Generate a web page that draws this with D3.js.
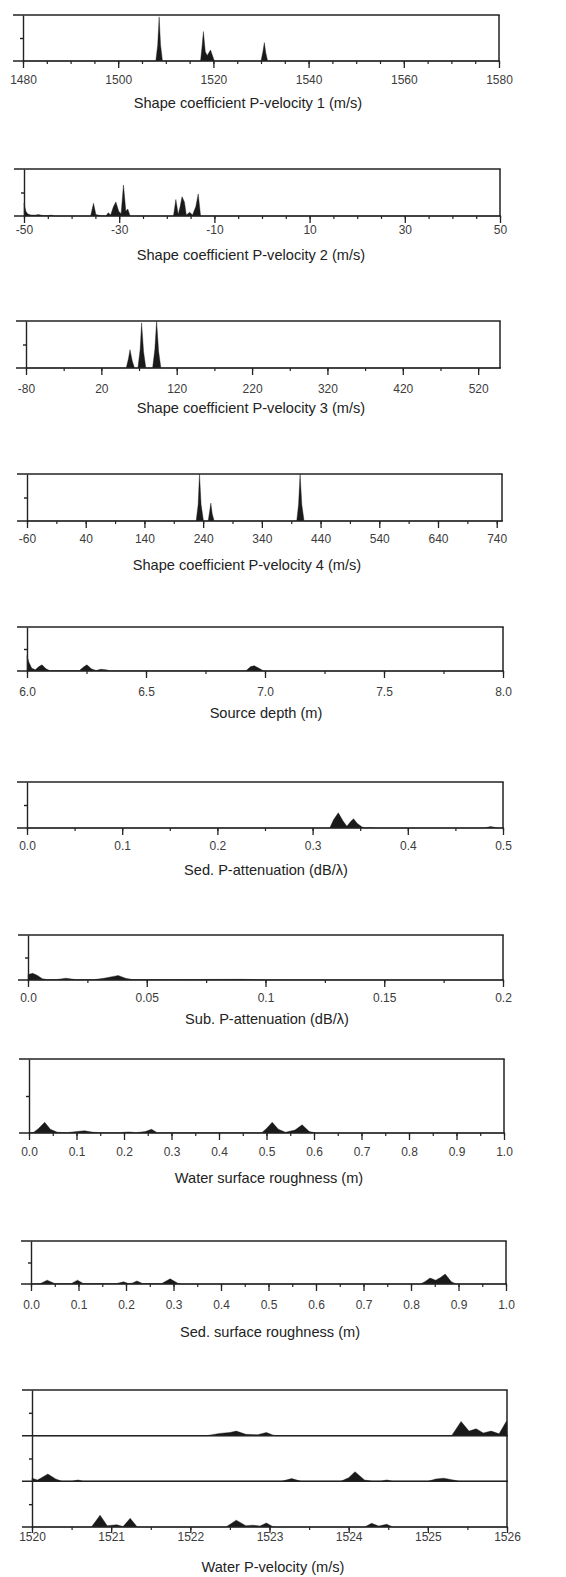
<!DOCTYPE html>
<html><head><meta charset="utf-8">
<script src="https://cdn.jsdelivr.net/npm/d3@7"></script>
<style>body{margin:0;background:#fff}</style>
</head><body>
<svg id="chart" width="566" height="1577"></svg>
<script>
// ================= DATA =================
const titles = [
  "Shape coefficient P-velocity 1 (m/s)",
  "Shape coefficient P-velocity 2 (m/s)",
  "Shape coefficient P-velocity 3 (m/s)",
  "Shape coefficient P-velocity 4 (m/s)",
  "Source depth (m)",
  "Sed. P-attenuation (dB/\u03bb)",
  "Sub. P-attenuation (dB/\u03bb)",
  "Water surface roughness (m)",
  "Sed. surface roughness (m)",
  "Water P-velocity  (m/s)"
];
const domains = [[1480,1580],[-50,50],[-80,549],[-60,749],[6,8],[0,0.5],[0,0.2],[0,1],[0,1],[1520,1526]];
const majorTicks = [
  [1480,1500,1520,1540,1560,1580],
  [-50,-30,-10,10,30,50],
  [-80,20,120,220,320,420,520],
  [-60,40,140,240,340,440,540,640,740],
  [6,6.5,7,7.5,8],
  [0,0.1,0.2,0.3,0.4,0.5],
  [0,0.05,0.1,0.15,0.2],
  [0,0.1,0.2,0.3,0.4,0.5,0.6,0.7,0.8,0.9,1],
  [0,0.1,0.2,0.3,0.4,0.5,0.6,0.7,0.8,0.9,1],
  [1520,1521,1522,1523,1524,1525,1526]
];
const tickLabels = [
  ["1480","1500","1520","1540","1560","1580"],
  ["-50","-30","-10","10","30","50"],
  ["-80","20","120","220","320","420","520"],
  ["-60","40","140","240","340","440","540","640","740"],
  ["6.0","6.5","7.0","7.5","8.0"],
  ["0.0","0.1","0.2","0.3","0.4","0.5"],
  ["0.0","0.05","0.1","0.15","0.2"],
  ["0.0","0.1","0.2","0.3","0.4","0.5","0.6","0.7","0.8","0.9","1.0"],
  ["0.0","0.1","0.2","0.3","0.4","0.5","0.6","0.7","0.8","0.9","1.0"],
  ["1520","1521","1522","1523","1524","1525","1526"]
];
const minorStep = [5,5,50,50,0.25,0.05,0.025,0.05,0.05,0.5];

// posterior densities, [value, relative height]
const shapeVel1 = [[1480,0],[1507.9,0],[1508.3,0.35],[1508.6,0.96],[1508.9,0.35],[1509.3,0],[1517.3,0],[1517.6,0.3],[1517.9,0.64],[1518.3,0.2],[1518.7,0.12],[1519.4,0.24],[1520.2,0],[1530.0,0],[1530.4,0.2],[1530.7,0.40],[1531.0,0.18],[1531.4,0],[1580,0]];
const shapeVel2 = [[-50,0.27],[-49.6,0.1],[-49.2,0.04],[-48.5,0.02],[-47.5,0.02],[-47,0.03],[-46,0.01],[-44.8,0.01],[-44.3,0.02],[-43.5,0],[-36,0],[-35.4,0.27],[-34.9,0.03],[-34,0.01],[-32.8,0],[-32.3,0.07],[-31.8,0.02],[-31.2,0.2],[-30.7,0.3],[-30.1,0.1],[-29.6,0.05],[-29.1,0.66],[-28.6,0.1],[-28.2,0.15],[-27.7,0],[-18.6,0],[-18.1,0.35],[-17.6,0.03],[-17.2,0.2],[-16.8,0.41],[-16.3,0.3],[-15.9,0.02],[-15.2,0.08],[-14.6,0.02],[-13.9,0.2],[-13.4,0.47],[-12.9,0],[50,0]];
const shapeVel3 = [[-80,0],[53,0],[56,0.2],[58,0.39],[61,0.15],[64,0],[68.5,0],[71.5,0.4],[73.4,0.96],[76,0.35],[79,0],[88,0],[91,0.4],[93.3,1.0],[96,0.35],[99,0],[549,0]];
const shapeVel4 = [[-60,0],[228.1,0],[231.5,0.35],[233.8,1.0],[236.5,0.35],[240.6,0],[248.6,0],[251,0.2],[253.1,0.38],[255.5,0.15],[258.8,0],[399.4,0],[402.5,0.35],[405.1,1.0],[408,0.35],[411.9,0],[749,0]];
const sourceDepth = [[6.0,0.35],[6.008,0.2],[6.02,0.06],[6.035,0.03],[6.05,0.1],[6.063,0.14],[6.08,0.05],[6.095,0.01],[6.22,0.01],[6.24,0.1],[6.252,0.14],[6.27,0.05],[6.29,0.01],[6.31,0.04],[6.33,0.03],[6.35,0.005],[6.92,0.005],[6.94,0.1],[6.955,0.12],[6.975,0.06],[6.995,0],[8,0]];
const sedAtten = [[0,0],[0.318,0],[0.322,0.18],[0.327,0.33],[0.332,0.15],[0.336,0.04],[0.34,0.14],[0.343,0.2],[0.347,0.1],[0.352,0.02],[0.356,0],[0.36,0.01],[0.366,0],[0.48,0],[0.487,0.03],[0.495,0],[0.5,0]];
const subAtten = [[0,0.12],[0.002,0.15],[0.004,0.1],[0.006,0.03],[0.008,0.01],[0.012,0.01],[0.016,0.04],[0.02,0.01],[0.028,0.01],[0.032,0.04],[0.036,0.08],[0.038,0.1],[0.041,0.04],[0.044,0.01],[0.06,0.01],[0.09,0.015],[0.1,0.005],[0.2,0]];
const waterRough = [[0,0],[0.01,0.01],[0.02,0.06],[0.033,0.145],[0.045,0.05],[0.06,0.01],[0.08,0.005],[0.1,0.02],[0.117,0.03],[0.135,0.01],[0.15,0.005],[0.19,0.005],[0.21,0.015],[0.225,0.005],[0.245,0.02],[0.258,0.05],[0.27,0.005],[0.49,0.005],[0.5,0.06],[0.512,0.145],[0.525,0.05],[0.54,0.01],[0.56,0.04],[0.575,0.11],[0.59,0.02],[0.605,0],[1,0]];
const sedRough = [[0,0],[0.02,0.01],[0.034,0.09],[0.05,0.01],[0.085,0.01],[0.098,0.09],[0.11,0.01],[0.18,0.01],[0.195,0.05],[0.205,0.01],[0.213,0.02],[0.223,0.07],[0.235,0.01],[0.275,0.01],[0.293,0.12],[0.31,0.01],[0.32,0],[0.82,0],[0.83,0.06],[0.84,0.14],[0.852,0.09],[0.862,0.15],[0.872,0.23],[0.885,0.05],[0.895,0],[1,0]];
const waterVelA = [[1520,0],[1522.2,0],[1522.37,0.05],[1522.5,0.07],[1522.58,0.1],[1522.7,0.03],[1522.85,0.02],[1522.96,0.07],[1523.05,0.01],[1523.1,0],[1525.3,0],[1525.42,0.31],[1525.52,0.1],[1525.61,0.15],[1525.7,0.06],[1525.8,0.1],[1525.9,0.04],[1525.99,0.31],[1526,0.32]];
const waterVelB = [[1520,0.07],[1520.07,0.03],[1520.12,0.08],[1520.2,0.16],[1520.3,0.05],[1520.38,0],[1520.5,0],[1520.58,0.03],[1520.65,0],[1523.15,0],[1523.28,0.06],[1523.4,0],[1523.9,0],[1524.0,0.08],[1524.08,0.21],[1524.2,0.03],[1524.3,0],[1524.4,0],[1524.48,0.03],[1524.56,0],[1525.0,0],[1525.1,0.05],[1525.2,0.07],[1525.32,0.03],[1525.4,0],[1526,0]];
const waterVelC = [[1520,0],[1520.75,0],[1520.86,0.26],[1520.95,0.03],[1521.07,0.05],[1521.15,0.01],[1521.24,0.19],[1521.33,0],[1522.45,0],[1522.58,0.15],[1522.7,0.03],[1522.79,0.04],[1522.88,0.02],[1522.96,0.09],[1523.05,0],[1524.2,0],[1524.29,0.08],[1524.38,0.02],[1524.48,0.06],[1524.56,0],[1526,0]];

const panelSeries = [[shapeVel1],[shapeVel2],[shapeVel3],[shapeVel4],[sourceDepth],[sedAtten],[subAtten],[waterRough],[sedRough],[waterVelA,waterVelB,waterVelC]];

// ================= LAYOUT =================
const layout = [
  {top:15,  base:61,   left:23, right:499, lab:19, titleY:103,  titleX:248},
  {top:169, base:216,  left:24, right:500, lab:14, titleY:255,  titleX:251},
  {top:321, base:368,  left:26, right:500, lab:21, titleY:408,  titleX:251},
  {top:474, base:521,  left:27, right:502, lab:18, titleY:565,  titleX:247},
  {top:627, base:671,  left:27, right:503, lab:21, titleY:713,  titleX:266},
  {top:782, base:828,  left:27, right:503, lab:18, titleY:870,  titleX:266},
  {top:935, base:980,  left:28, right:503, lab:18, titleY:1019, titleX:267},
  {top:1059,base:1133, left:29, right:504, lab:19, titleY:1178, titleX:269},
  {top:1241,base:1284, left:31, right:506, lab:21, titleY:1332, titleX:270},
  {top:1390,base:1527, left:32, right:507, lab:10, titleY:1567, titleX:273}
];
const INK = "#222", FILL = "#1a1a1a";
const svg = d3.select("#chart");
const font = "'Liberation Sans', Arial, Helvetica, sans-serif";

layout.forEach((L, i) => {
  const g = svg.append("g");
  const x = d3.scaleLinear().domain(domains[i]).range([L.left, L.right]);
  const list = panelSeries[i];
  const h = (L.base - L.top) / list.length;
  list.forEach((s, k) => {
    const t = L.top + h * k, b = L.top + h * (k + 1);
    const y = d3.scaleLinear().domain([0, 1]).range([b, t]);
    g.append("path").datum(s)
      .attr("d", d3.area().x(d => x(d[0])).y0(y(0)).y1(d => y(d[1])))
      .attr("fill", FILL).attr("stroke", FILL).attr("stroke-width", 0.4);
    g.append("line").attr("x1", L.left - 10).attr("x2", L.right + 1)
      .attr("y1", b).attr("y2", b).attr("stroke", INK).attr("stroke-width", 1.5);
    const ax = g.append("g").attr("transform", `translate(${L.left},0)`)
      .call(d3.axisLeft(y).tickValues([0.5]).tickSize(3).tickFormat("").tickSizeOuter(0));
    ax.selectAll("path,line").attr("stroke", INK).attr("stroke-width", 1.4);
  });
  g.append("line").attr("x1", L.left - 10).attr("x2", L.right + 0.7)
    .attr("y1", L.top).attr("y2", L.top).attr("stroke", INK).attr("stroke-width", 1.5);
  g.append("line").attr("x1", L.right).attr("x2", L.right)
    .attr("y1", L.top).attr("y2", L.base).attr("stroke", INK).attr("stroke-width", 1.5);

  const d0 = domains[i][0], step = minorStep[i];
  const lastMajor = majorTicks[i][majorTicks[i].length - 1];
  const minor = d3.range(d0, lastMajor + step / 2, step);
  const mx = g.append("g").attr("transform", `translate(0,${L.base})`)
    .call(d3.axisBottom(x).tickValues(minor).tickSize(3).tickFormat("").tickSizeOuter(0));
  mx.select(".domain").remove();
  mx.selectAll("line").attr("stroke", INK).attr("stroke-width", 1.2);
  const labs = tickLabels[i];
  const MX = g.append("g").attr("transform", `translate(0,${L.base})`)
    .call(d3.axisBottom(x).tickValues(majorTicks[i]).tickSize(i === 9 ? 6 : 7)
      .tickFormat((d, j) => labs[j]).tickSizeOuter(0));
  MX.select(".domain").remove();
  MX.selectAll("line").attr("stroke", INK).attr("stroke-width", 1.3);
  MX.selectAll("text").attr("y", L.lab).attr("dy", "0.35em")
    .attr("font-family", font).attr("font-size", 12).attr("fill", "#3c3c3c");

  g.append("text").attr("x", L.titleX).attr("y", L.titleY).attr("dy", "0.35em")
    .attr("text-anchor", "middle").attr("font-family", font).attr("font-size", 14.6)
    .attr("fill", "#222").text(titles[i]);
});
</script>
</body></html>
